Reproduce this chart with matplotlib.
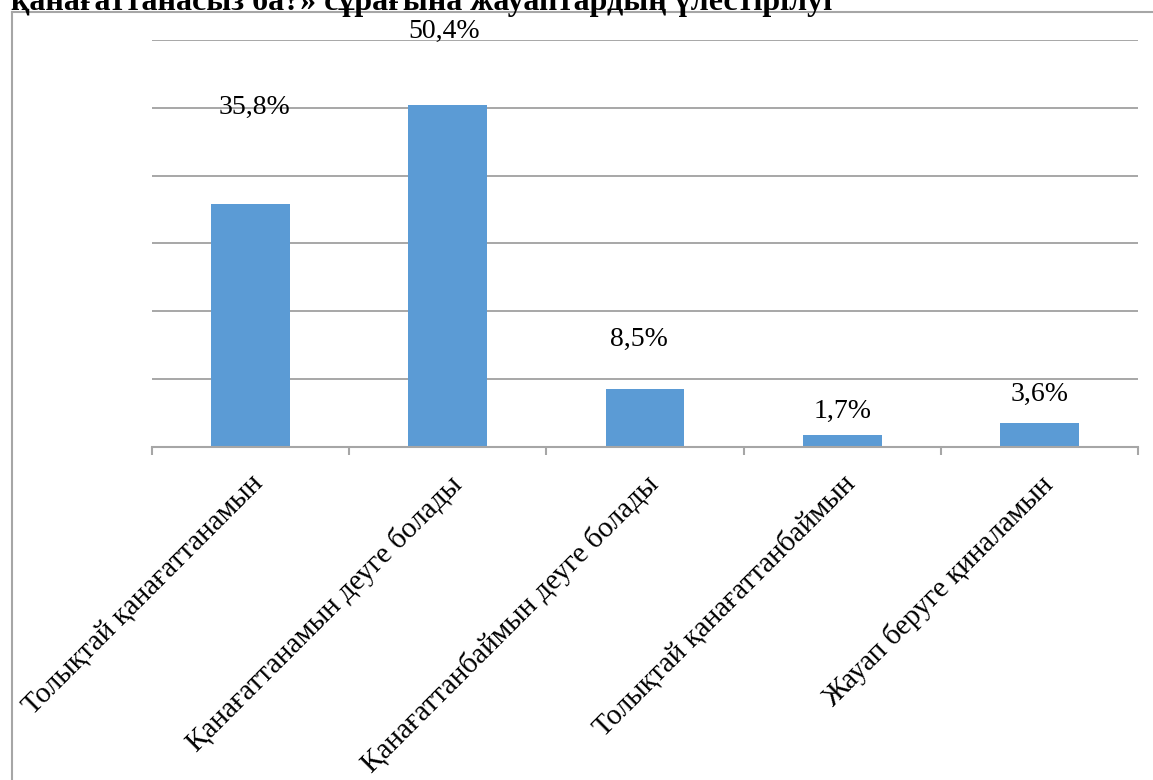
import matplotlib
matplotlib.use("Agg")
import matplotlib.pyplot as plt
from matplotlib.lines import Line2D

categories = [
    "Толықтай қанағаттанамын",
    "Қанағаттанамын деуге болады",
    "Қанағаттанбаймын деуге болады",
    "Толықтай қанағаттанбаймын",
    "Жауап беруге қиналамын",
]
values = [35.8, 50.4, 8.5, 1.7, 3.6]
value_labels = ["35,8%", "50,4%", "8,5%", "1,7%", "3,6%"]
title_text = "қанағаттанасыз ба?» сұрағына жауаптардың үлестірілуі"

# manual label placement (layout): offsets above bar tops, in data units
label_dy = [14.2, 10.8, 7.3, 3.6, 4.1]
label_dx = [0.02, -0.02, -0.03, 0.0, 0.0]

plt.rcParams['font.family'] = ['Liberation Serif', 'DejaVu Serif']

W, H = 1153, 780
fig = plt.figure(figsize=(W / 100, H / 100), dpi=100)
fig.patch.set_facecolor("white")

ax = fig.add_axes([152 / W, 1 - 447 / H, (1138 - 152) / W, (447 - 40) / H])
x = list(range(len(categories)))
ax.bar(x, values, width=0.4, color="#5B9BD5", zorder=3)
ax.set_xlim(-0.5, len(categories) - 0.5)
ax.set_ylim(0, 60)
ax.set_yticks([0, 10, 20, 30, 40, 50, 60])
ax.yaxis.grid(True, color="#989898", linewidth=1.2, zorder=0)
ax.tick_params(axis="y", left=False, labelleft=False)
for s in ["left", "right", "top"]:
    ax.spines[s].set_visible(False)
ax.spines["bottom"].set_color("#A6A6A6")
ax.spines["bottom"].set_linewidth(1.5)
ax.spines["bottom"].set_zorder(4)

ax.set_xticks(x)
ax.set_xticklabels(categories, rotation=45, ha="right", rotation_mode="anchor",
                   fontsize=21)
ax.tick_params(axis="x", which="major", length=0, pad=17)
ax.set_xticks([i - 0.5 for i in range(len(categories) + 1)], minor=True)
ax.tick_params(axis="x", which="minor", length=6, width=1.5, color="#A6A6A6")

for xi, v, lab, dy, dx in zip(x, values, value_labels, label_dy, label_dx):
    ax.text(xi + dx, v + dy, lab, ha="center", va="center", fontsize=20,
            color="black", clip_on=False)

# outer frame (partially visible)
fig.add_artist(Line2D([11.5 / W, 11.5 / W], [1 - 12 / H, 0], transform=fig.transFigure,
                      color="#A6A6A6", linewidth=1.5))
fig.add_artist(Line2D([11.5 / W, 1], [1 - 12 / H, 1 - 12 / H], transform=fig.transFigure,
                      color="#A6A6A6", linewidth=1.5))

# title, cut off at the top as in the reference
fig.text(11 / W, 1 - 10 / H, title_text, ha="left", va="baseline",
         fontsize=23, fontweight="bold")

fig.savefig("out.png", dpi=100, facecolor="white")
